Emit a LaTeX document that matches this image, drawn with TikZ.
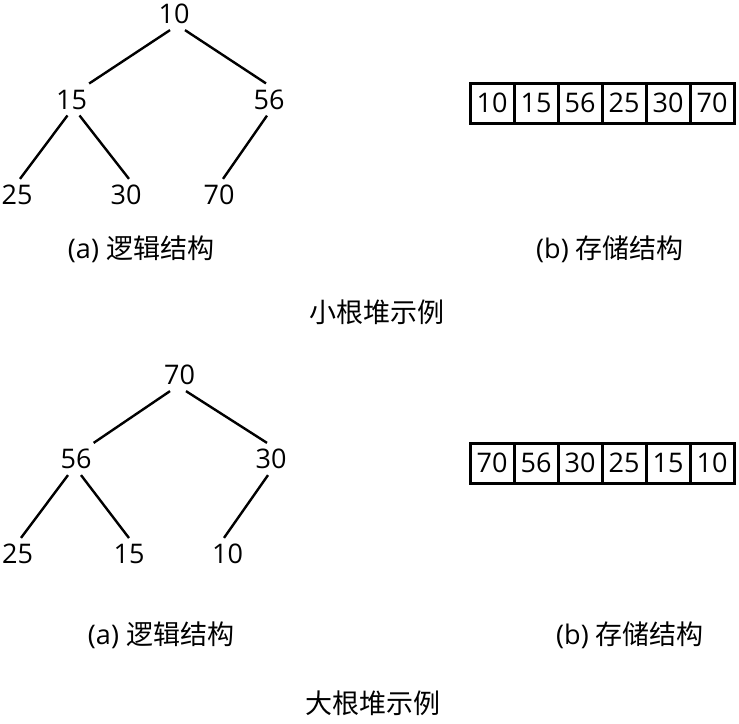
\documentclass[tikz,border=0pt]{standalone}
\usepackage{fontspec}
\setmainfont{Open Sans}
\newfontfamily\cjk{Noto Sans CJK SC}
\usepackage{tikz}

\begin{document}
\begin{tikzpicture}[x=1pt,y=-1pt,every node/.style={font=\fontsize{27}{32}\selectfont},
  key/.style={inner xsep=2pt,inner ysep=6pt},
  cell/.style={draw,line width=3pt,minimum width=44pt,minimum height=40pt,inner sep=0pt},
  link/.style={line width=2.4pt}]
\useasboundingbox (0,0) rectangle (739,723);
% small root heap
\node[key] (n10) at (174,14)    {10};
\node[key] (n15) at (71.5,99.5) {15};
\node[key] (n56) at (269,99.5)  {56};
\node[key] (n25) at (17,195)    {25};
\node[key] (n30) at (126,195)   {30};
\node[key] (n70) at (219,195)   {70};
\draw[link] ([xshift=-4pt]n10.south) -- (n15.north east);
\draw[link] ([xshift=11pt]n10.south) -- ([xshift=-3pt]n56.north);
\draw[link] ([xshift=-4pt]n15.south) -- ([xshift=3pt]n25.north);
\draw[link] ([xshift=8pt]n15.south) -- ([xshift=3pt]n30.north);
\draw[link] ([xshift=-2pt]n56.south) -- ([xshift=4pt]n70.north);
\node[cell] (a1) at (492,103.3) {10};
\node[cell] (a2) at (536,103.3) {15};
\node[cell] (a3) at (580,103.3) {56};
\node[cell] (a4) at (624,103.3) {25};
\node[cell] (a5) at (668,103.3) {30};
\node[cell] (a6) at (712,103.3) {70};
\node (la1) at (141,249)   {(a) {\cjk 逻辑结构}};
\node (lb1) at (610,249)   {(b) {\cjk 存储结构}};
\node (t1)  at (377,312.5) {\cjk 小根堆示例};
% big root heap
\node[key] (m70) at (179.5,375) {70};
\node[key] (m56) at (76,459)    {56};
\node[key] (m30) at (271,459)   {30};
\node[key] (m25) at (17.5,554)  {25};
\node[key] (m15) at (129,554)   {15};
\node[key] (m10) at (227.5,554) {10};
\draw[link] ([xshift=-9.5pt]m70.south) -- (m56.north east);
\draw[link] ([xshift=6.5pt]m70.south) -- ([xshift=-4pt]m30.north);
\draw[link] ([xshift=-8pt]m56.south) -- ([xshift=3.5pt]m25.north);
\draw[link] ([xshift=5pt]m56.south) -- (m15.north);
\draw[link] ([xshift=-3pt]m30.south) -- ([xshift=-3.5pt]m10.north);
\node[cell] (b1) at (492,463.3) {70};
\node[cell] (b2) at (536,463.3) {56};
\node[cell] (b3) at (580,463.3) {30};
\node[cell] (b4) at (624,463.3) {25};
\node[cell] (b5) at (668,463.3) {15};
\node[cell] (b6) at (712,463.3) {10};
\node (la2) at (161,635.5) {(a) {\cjk 逻辑结构}};
\node (lb2) at (630,635)   {(b) {\cjk 存储结构}};
\node (t2)  at (372.5,703) {\cjk 大根堆示例};
\end{tikzpicture}
\end{document}
